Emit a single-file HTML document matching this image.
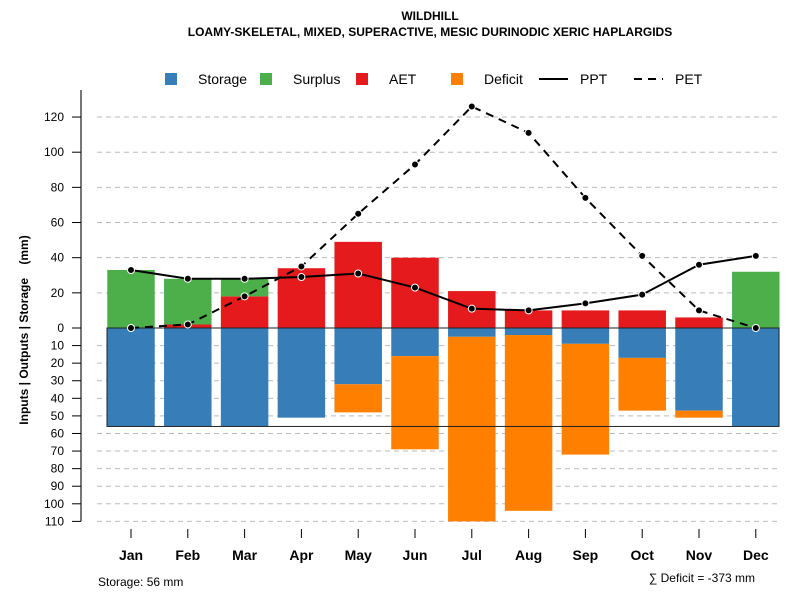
<!DOCTYPE html>
<html><head><meta charset="utf-8"><style>
body{margin:0;background:#fff}
svg{font-family:"Liberation Sans",sans-serif;display:block}
</style></head><body>
<svg id="chart" width="800" height="600">
<text x="430" y="20" text-anchor="middle" font-size="12" font-weight="bold">WILDHILL</text>
<text x="430" y="36" text-anchor="middle" font-size="12" font-weight="bold">LOAMY-SKELETAL, MIXED, SUPERACTIVE, MESIC DURINODIC XERIC HAPLARGIDS</text>
<text x="28" y="330" transform="rotate(-90 28 330)" text-anchor="middle" font-size="12" font-weight="bold">Inputs | Outputs | Storage&#160;&#160;&#160;&#160;(mm)</text>
<text x="98" y="586" font-size="12">Storage: 56 mm</text>
<text x="755" y="582" text-anchor="end" font-size="12">∑ Deficit = -373 mm</text>
<g id="legend"></g>
<g id="grid"></g><g id="bars"></g><g id="lines"></g><g id="axes"></g>
</svg>
<script>
const months=["Jan","Feb","Mar","Apr","May","Jun","Jul","Aug","Sep","Oct","Nov","Dec"];
const storage=[56,56,56,51,32,16,5,4,9,17,47,56];
const deficit=[0,0,0,0,16,53,105,100,63,30,4,0];
const aet=[0,2,18,34,49,40,21,10,10,10,6,0];
const surplus=[33,26,10,0,0,0,0,0,0,0,0,32];
const ppt=[33,28,28,29,31,23,11,10,14,19,36,41];
const pet=[0,2,18,35,65,93,126,111,74,41,10,0];
const posTicks=[0,20,40,60,80,100,120];
const negTicks=[10,20,30,40,50,60,70,80,90,100,110];
const storageCap=56;

const NS="http://www.w3.org/2000/svg";
function mk(tag,attrs,parent){const e=document.createElementNS(NS,tag);for(const k in attrs)e.setAttribute(k,attrs[k]);parent.appendChild(e);return e;}
const y=v=>328-v*1.758;
const x=i=>131+i*56.8;
const bw=47.5;
const grid=document.getElementById('grid'),bars=document.getElementById('bars'),lines=document.getElementById('lines'),axes=document.getElementById('axes'),legend=document.getElementById('legend');
mk('line',{x1:81,y1:90,x2:81,y2:y(-110),stroke:'#777','stroke-width':2},axes);
posTicks.forEach(t=>{
 if(t>0){const g=mk('line',{x1:97,x2:780,y1:y(t),y2:y(t),stroke:'#bbb','stroke-dasharray':'5,4'},grid);}
 mk('line',{x1:72,x2:81,y1:y(t),y2:y(t),stroke:'#000'},axes);
 const tx=mk('text',{x:64,y:y(t)+4,'text-anchor':'end','font-size':12},axes);tx.textContent=t;
 
});
negTicks.forEach(t=>{
 const g=mk('line',{x1:97,x2:780,y1:y(-t),y2:y(-t),stroke:'#bbb','stroke-dasharray':'5,4'},grid);
 
 mk('line',{x1:72,x2:81,y1:y(-t),y2:y(-t),stroke:'#000'},axes);
 const tx=mk('text',{x:64,y:y(-t)+4,'text-anchor':'end','font-size':12},axes);tx.textContent=t;
 
});
months.forEach((m,i)=>{
 const l=x(i)-bw/2;
 function bar(v0,v1,c,n){if(v1===v0)return;const r=mk('rect',{x:l,y:y(Math.max(v0,v1)),width:bw,height:Math.abs(y(v1)-y(v0)),fill:c},bars);
  }
 bar(0,-storage[i],'#377eb8','bar-storage-'+m.toLowerCase());
 bar(-storage[i],-storage[i]-deficit[i],'#ff7f00','bar-deficit-'+m.toLowerCase());
 bar(0,aet[i],'#e41a1c','bar-aet-'+m.toLowerCase());
 bar(aet[i],aet[i]+surplus[i],'#4daf4a','bar-surplus-'+m.toLowerCase());
 mk('line',{x1:x(i),x2:x(i),y1:529,y2:538,stroke:'#000'},axes);
 const tx=mk('text',{x:x(i),y:560,'text-anchor':'middle','font-size':14,'font-weight':'bold'},axes);tx.textContent=m;
 
});
const box=mk('rect',{x:107,y:y(0),width:672,height:y(-storageCap)-y(0),fill:'none',stroke:'#222','stroke-width':1},bars);

function series(arr,dash,n){
 const p=mk('polyline',{points:arr.map((v,i)=>x(i)+','+y(v)).join(' '),fill:'none',stroke:'#000','stroke-width':2,'stroke-dasharray':dash},lines);
 
 arr.forEach((v,i)=>{const c=mk('circle',{cx:x(i),cy:y(v),r:3.5,fill:'#000',stroke:'#fff','stroke-width':1},lines);
  });
}
series(pet,'8,6','pet');
series(ppt,'none','ppt');
const leg=[['Storage','#377eb8',165],['Surplus','#4daf4a',260],['AET','#e41a1c',356],['Deficit','#ff7f00',451]];
leg.forEach(([t,c,lx])=>{
 const r=mk('rect',{x:lx,y:73,width:12,height:12,fill:c},legend);
 
 const tx=mk('text',{x:lx+33,y:84,'font-size':14},legend);tx.textContent=t;
 
});
[['PPT','none',539],['PET','8,6',634]].forEach(([t,d,lx])=>{
 const l=mk('line',{x1:lx,x2:lx+29,y1:79,y2:79,stroke:'#000','stroke-width':2,'stroke-dasharray':d},legend);
 
 const tx=mk('text',{x:lx+41,y:84,'font-size':14},legend);tx.textContent=t;
 
});
</script>
</body></html>
